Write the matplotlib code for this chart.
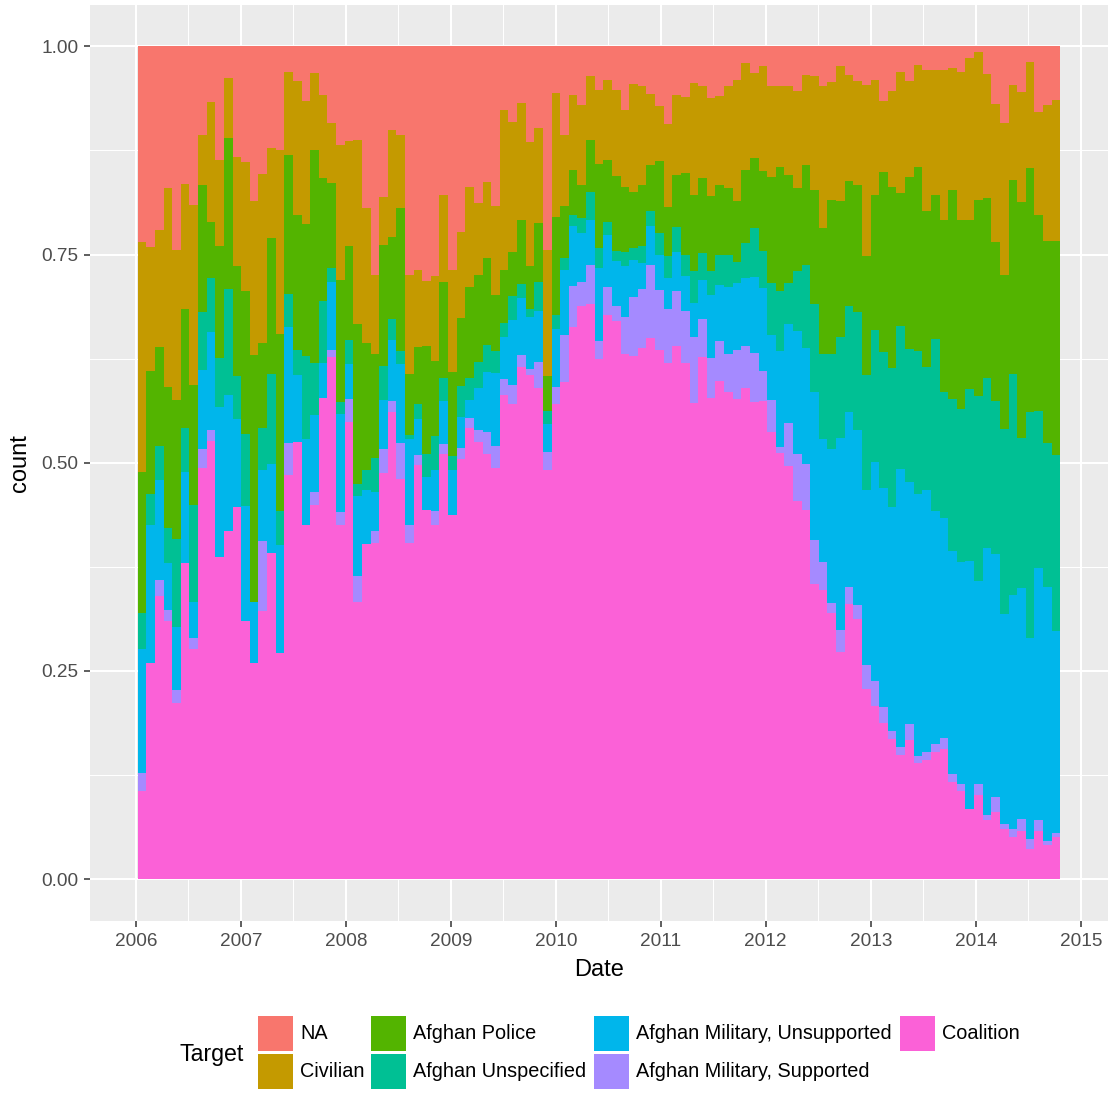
import numpy as np
import matplotlib
matplotlib.use("Agg")
import matplotlib.pyplot as plt
import matplotlib.dates as mdates
from matplotlib.patches import Rectangle
from matplotlib.ticker import FixedLocator, FuncFormatter

# ---- data: cumulative stack boundaries (fill position), one value per 30-day bin ----
bin_start = "2006-01-07"
bin_days = 30

coalition_top = [
    0.106, 0.260, 0.340, 0.310, 0.212, 0.380, 0.276, 0.494, 0.526, 0.387,
    0.418, 0.447, 0.310, 0.259, 0.322, 0.391, 0.271, 0.485, 0.525, 0.425,
    0.449, 0.578, 0.627, 0.425, 0.549, 0.333, 0.402, 0.403, 0.488, 0.561,
    0.480, 0.404, 0.497, 0.443, 0.425, 0.511, 0.437, 0.504, 0.542, 0.525,
    0.511, 0.494, 0.581, 0.571, 0.615, 0.605, 0.590, 0.491, 0.571, 0.597,
    0.663, 0.688, 0.691, 0.624, 0.677, 0.670, 0.630, 0.628, 0.638, 0.650,
    0.635, 0.620, 0.640, 0.620, 0.572, 0.627, 0.578, 0.598, 0.585, 0.576,
    0.590, 0.573, 0.574, 0.537, 0.512, 0.496, 0.454, 0.443, 0.354, 0.347,
    0.319, 0.273, 0.330, 0.312, 0.228, 0.208, 0.187, 0.168, 0.149, 0.167,
    0.139, 0.143, 0.153, 0.156, 0.117, 0.106, 0.084, 0.101, 0.071, 0.081,
    0.060, 0.051, 0.058, 0.036, 0.058, 0.041, 0.050]

supported_top = [
    0.127, 0.260, 0.359, 0.323, 0.227, 0.380, 0.289, 0.516, 0.539, 0.387,
    0.418, 0.447, 0.310, 0.259, 0.406, 0.391, 0.271, 0.524, 0.525, 0.425,
    0.465, 0.578, 0.635, 0.441, 0.576, 0.364, 0.402, 0.418, 0.516, 0.574,
    0.524, 0.425, 0.509, 0.443, 0.442, 0.522, 0.437, 0.518, 0.554, 0.539,
    0.537, 0.520, 0.600, 0.593, 0.629, 0.612, 0.621, 0.513, 0.591, 0.653,
    0.712, 0.717, 0.737, 0.646, 0.711, 0.688, 0.675, 0.699, 0.708, 0.737,
    0.707, 0.684, 0.706, 0.682, 0.651, 0.672, 0.626, 0.646, 0.630, 0.635,
    0.640, 0.632, 0.610, 0.575, 0.519, 0.548, 0.510, 0.498, 0.407, 0.381,
    0.331, 0.299, 0.351, 0.329, 0.257, 0.238, 0.207, 0.178, 0.159, 0.186,
    0.148, 0.153, 0.162, 0.169, 0.126, 0.114, 0.084, 0.114, 0.077, 0.099,
    0.066, 0.060, 0.072, 0.048, 0.071, 0.046, 0.055]

unsupported_top = [
    0.276, 0.425, 0.479, 0.379, 0.303, 0.489, 0.333, 0.611, 0.657, 0.567,
    0.581, 0.552, 0.448, 0.333, 0.491, 0.499, 0.401, 0.663, 0.605, 0.528,
    0.557, 0.620, 0.717, 0.558, 0.619, 0.460, 0.467, 0.465, 0.575, 0.647,
    0.619, 0.528, 0.552, 0.483, 0.491, 0.574, 0.491, 0.555, 0.575, 0.590,
    0.609, 0.608, 0.651, 0.671, 0.698, 0.675, 0.682, 0.546, 0.660, 0.731,
    0.784, 0.776, 0.791, 0.734, 0.773, 0.742, 0.736, 0.743, 0.740, 0.784,
    0.749, 0.722, 0.753, 0.724, 0.692, 0.719, 0.701, 0.713, 0.711, 0.716,
    0.722, 0.723, 0.710, 0.653, 0.634, 0.666, 0.658, 0.638, 0.585, 0.528,
    0.516, 0.530, 0.561, 0.539, 0.467, 0.501, 0.470, 0.447, 0.493, 0.477,
    0.463, 0.467, 0.442, 0.433, 0.394, 0.381, 0.382, 0.358, 0.397, 0.390,
    0.318, 0.341, 0.349, 0.289, 0.373, 0.351, 0.298]

unspecified_top = [
    0.319, 0.463, 0.520, 0.422, 0.408, 0.542, 0.449, 0.681, 0.722, 0.626,
    0.708, 0.604, 0.534, 0.333, 0.542, 0.607, 0.442, 0.702, 0.635, 0.628,
    0.620, 0.694, 0.734, 0.573, 0.647, 0.475, 0.491, 0.506, 0.616, 0.672,
    0.634, 0.533, 0.571, 0.511, 0.532, 0.602, 0.508, 0.592, 0.602, 0.621,
    0.641, 0.634, 0.668, 0.700, 0.714, 0.684, 0.717, 0.562, 0.677, 0.746,
    0.798, 0.794, 0.825, 0.758, 0.789, 0.754, 0.753, 0.758, 0.760, 0.802,
    0.776, 0.748, 0.783, 0.749, 0.730, 0.752, 0.730, 0.749, 0.749, 0.741,
    0.764, 0.782, 0.754, 0.716, 0.706, 0.716, 0.730, 0.737, 0.690, 0.630,
    0.631, 0.651, 0.688, 0.681, 0.605, 0.659, 0.633, 0.614, 0.664, 0.636,
    0.634, 0.615, 0.648, 0.585, 0.576, 0.564, 0.588, 0.580, 0.602, 0.574,
    0.540, 0.607, 0.530, 0.561, 0.562, 0.524, 0.509]

police_top = [
    0.489, 0.610, 0.639, 0.591, 0.575, 0.684, 0.593, 0.834, 0.789, 0.760,
    0.890, 0.736, 0.706, 0.629, 0.644, 0.770, 0.654, 0.870, 0.797, 0.787,
    0.875, 0.842, 0.836, 0.719, 0.760, 0.666, 0.644, 0.630, 0.761, 0.771,
    0.806, 0.607, 0.639, 0.640, 0.622, 0.717, 0.609, 0.674, 0.711, 0.726,
    0.746, 0.701, 0.731, 0.753, 0.791, 0.736, 0.788, 0.604, 0.795, 0.808,
    0.852, 0.834, 0.887, 0.859, 0.864, 0.844, 0.831, 0.825, 0.833, 0.857,
    0.862, 0.807, 0.845, 0.848, 0.821, 0.842, 0.820, 0.833, 0.830, 0.814,
    0.851, 0.866, 0.850, 0.843, 0.855, 0.845, 0.830, 0.857, 0.828, 0.782,
    0.816, 0.814, 0.838, 0.833, 0.748, 0.821, 0.849, 0.831, 0.824, 0.843,
    0.855, 0.802, 0.821, 0.792, 0.827, 0.792, 0.791, 0.815, 0.818, 0.765,
    0.725, 0.839, 0.813, 0.854, 0.797, 0.766, 0.766]

civilian_top = [
    0.765, 0.759, 0.779, 0.830, 0.756, 0.835, 0.810, 0.893, 0.933, 0.864,
    0.962, 0.867, 0.861, 0.814, 0.847, 0.878, 0.876, 0.969, 0.958, 0.934,
    0.968, 0.941, 0.908, 0.881, 0.886, 0.888, 0.806, 0.725, 0.819, 0.900,
    0.894, 0.725, 0.731, 0.718, 0.724, 0.821, 0.732, 0.777, 0.831, 0.812,
    0.837, 0.808, 0.924, 0.909, 0.932, 0.885, 0.902, 0.756, 0.944, 0.894,
    0.942, 0.929, 0.964, 0.948, 0.959, 0.948, 0.923, 0.955, 0.952, 0.943,
    0.928, 0.907, 0.941, 0.939, 0.956, 0.952, 0.938, 0.940, 0.952, 0.960,
    0.980, 0.968, 0.976, 0.952, 0.952, 0.952, 0.946, 0.965, 0.964, 0.952,
    0.957, 0.976, 0.965, 0.958, 0.953, 0.959, 0.934, 0.946, 0.969, 0.958,
    0.977, 0.972, 0.972, 0.971, 0.974, 0.969, 0.986, 0.993, 0.967, 0.931,
    0.908, 0.953, 0.945, 0.981, 0.921, 0.929, 0.936]

# stacking order, bottom to top
categories = ["Coalition", "Afghan Military, Supported", "Afghan Military, Unsupported",
              "Afghan Unspecified", "Afghan Police", "Civilian", "NA"]
colors = ["#FB61D7", "#A58AFF", "#00B6EB", "#00C094", "#53B400", "#C49A00", "#F8766D"]
legend_order = ["NA", "Civilian", "Afghan Police", "Afghan Unspecified",
                "Afghan Military, Unsupported", "Afghan Military, Supported", "Coalition"]
year_labels = list(range(2006, 2016))
y_ticks = [0.0, 0.25, 0.5, 0.75, 1.0]

# ---- build ----
plt.rcParams["font.family"] = ["Liberation Sans", "DejaVu Sans"]

n = len(coalition_top)
starts = np.datetime64(bin_start) + np.arange(n) * np.timedelta64(bin_days, "D")
left = mdates.date2num(starts)

levels = [np.zeros(n), np.array(coalition_top), np.array(supported_top),
          np.array(unsupported_top), np.array(unspecified_top),
          np.array(police_top), np.array(civilian_top), np.ones(n)]

W, H = 1110, 1093
fig = plt.figure(figsize=(W / 100, H / 100), dpi=100)
ax = fig.add_axes([90 / W, 1 - 920.7 / H, 1018 / W, 916 / H])
ax.set_facecolor("#EBEBEB")

color_of = dict(zip(categories, colors))
for i, name in enumerate(categories):
    bottom = levels[i]
    top = levels[i + 1]
    ax.bar(left, top - bottom, bottom=bottom, width=bin_days, align="edge",
           color=color_of[name], linewidth=0, antialiased=False, label=name)

x_min, x_max = left[0], left[-1] + bin_days
pad = (x_max - x_min) * 0.0517
ax.set_xlim(x_min - pad, x_max + pad)
ax.set_ylim(-0.05, 1.05)

ax.xaxis.set_major_locator(FixedLocator(mdates.date2num(
    [np.datetime64(f"{y}-01-01") for y in year_labels])))
ax.xaxis.set_major_formatter(mdates.DateFormatter("%Y"))
ax.xaxis.set_minor_locator(FixedLocator(mdates.date2num(
    [np.datetime64(f"{y}-07-02") for y in year_labels[:-1]])))
ax.yaxis.set_major_locator(FixedLocator(y_ticks))
ax.yaxis.set_major_formatter(FuncFormatter(lambda v, p: f"{v:.2f}"))
ax.yaxis.set_minor_locator(FixedLocator([(a + b) / 2 for a, b in zip(y_ticks[:-1], y_ticks[1:])]))

ax.set_axisbelow(True)
ax.grid(which="major", color="white", linewidth=1.5)
ax.grid(which="minor", color="white", linewidth=0.75)
for s in ax.spines.values():
    s.set_visible(False)
ax.tick_params(which="major", length=4, width=1.1, color="#333333",
               labelcolor="#4D4D4D", labelsize=13.7, pad=4.5)
ax.tick_params(which="minor", length=0)

ax.set_xlabel("Date", fontsize=17, color="black")
ax.set_ylabel("count", fontsize=17, color="black")
ax.xaxis.set_label_coords(0.5, (920.7 - 959) / 916)
ax.yaxis.set_label_coords((31 - 90) / 1018, 0.5)

# ---- legend (ggplot-style: title at left, 2 rows, filled by column) ----
key = 35          # key size in px
col_x = [258, 371, 594, 900]
row_y = [1016, 1054]
for idx, name in enumerate(legend_order):
    c, r = divmod(idx, 2)
    x0, y0 = col_x[c], row_y[r]
    fig.patches.append(Rectangle((x0 / W, 1 - (y0 + key) / H), key / W, key / H,
                                 transform=fig.transFigure, facecolor=color_of[name],
                                 edgecolor="none"))
    fig.text((x0 + key + 7) / W, 1 - (y0 + key / 2) / H, name, fontsize=14.3,
             va="center", ha="left", color="black")
fig.text(180 / W, 1 - 1054 / H, "Target", fontsize=16.7, va="center", ha="left")

fig.savefig("out.png", dpi=100)
